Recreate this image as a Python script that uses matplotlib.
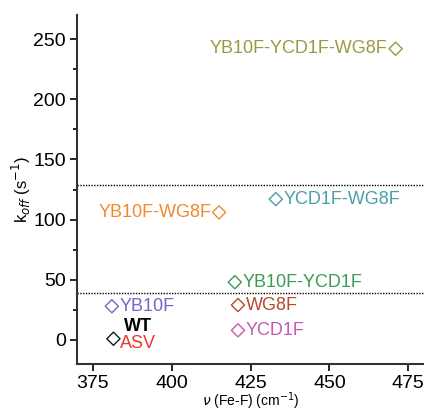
import matplotlib
matplotlib.use("Agg")
import matplotlib.pyplot as plt
from matplotlib.ticker import MultipleLocator

plt.rcParams["font.family"] = ["Liberation Sans", "DejaVu Sans"]

# data
names = ["WT", "YB10F", "YB10F-WG8F", "YCD1F-WG8F", "YB10F-YCD1F-WG8F",
         "YB10F-YCD1F", "WG8F", "YCD1F"]
freq = [381.5, 381, 415, 433, 471, 420, 421, 421]
koff = [1, 28, 106, 117, 242, 48, 29, 8]
colors = ["#1a1a1a", "#6a6ac8", "#f0892e", "#4a9ea8", "#9c9a3e",
          "#3f9a55", "#b54a32", "#c857b4"]
label_side = ["right", "right", "left", "right", "left", "right", "right", "right"]
thresholds = [39, 129]

fig = plt.figure(figsize=(4.24, 4.12), dpi=100)
ax = fig.add_axes([0.182, 0.1165, 0.818, 0.847])

for x, y, c, n, side in zip(freq, koff, colors, names, label_side):
    ax.scatter(x, y, marker="D", s=45, facecolors="none", edgecolors=c,
               linewidths=1.0, zorder=3)
    if n == "WT":
        ax.text(x + 3.5, y + 10, "WT", color="black", fontsize=13,
                fontweight="bold", va="center", ha="left")
        ax.text(x + 2, y - 4, "ASV", color="#e8382c", fontsize=13,
                va="center", ha="left")
    elif side == "left":
        ax.text(x - 2.5, y, n, color=c, fontsize=13, va="center", ha="right")
    else:
        ax.text(x + 2.5, y, n, color=c, fontsize=13, va="center", ha="left")

for t in thresholds:
    ax.axhline(t, color="black", linestyle=(0, (1, 1)), linewidth=1.0)

ax.set_xlim(370, 480)
ax.set_ylim(-20, 270)
ax.xaxis.set_major_locator(MultipleLocator(25))
ax.yaxis.set_major_locator(MultipleLocator(50))
ax.yaxis.set_minor_locator(MultipleLocator(25))
ax.tick_params(axis="both", which="major", labelsize=14, length=5, width=1.2,
               pad=3)
ax.tick_params(axis="y", which="minor", length=3, width=1.2)
for s in ["top", "right"]:
    ax.spines[s].set_visible(False)
for s in ["left", "bottom"]:
    ax.spines[s].set_linewidth(1.5)
    ax.spines[s].set_color("#333333")

ax.set_xlabel(r"$\nu$ (Fe-F) (cm$^{-1}$)", fontsize=10, labelpad=-1)
ax.set_ylabel(r"k$_{off}$ (s$^{-1}$)", fontsize=12, labelpad=0)

fig.savefig("out.png", dpi=100)
